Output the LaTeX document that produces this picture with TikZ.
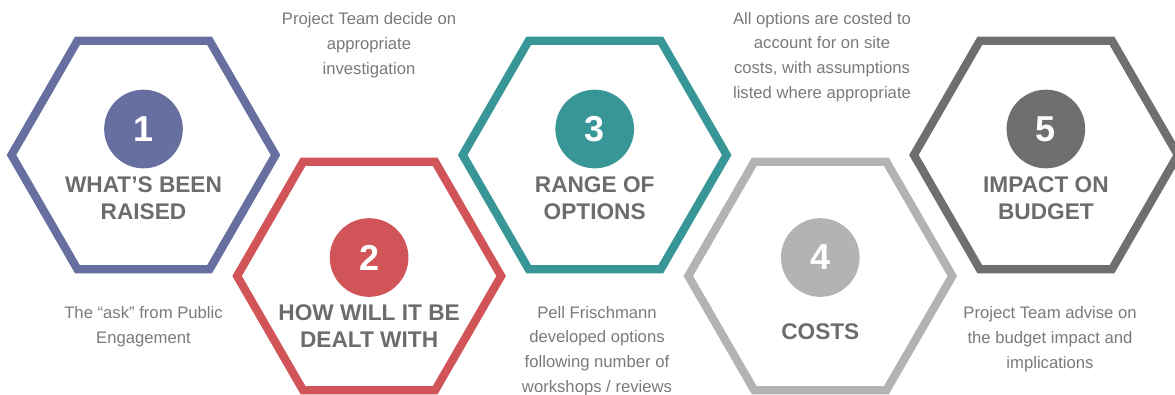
\documentclass[tikz,border=0pt]{standalone}
\usepackage{fontspec}
\setmainfont{Liberation Sans}
\usepackage{xcolor}
\usetikzlibrary{calc, positioning}

\definecolor{hexblue}{RGB}{103,110,160}
\definecolor{hexred}{RGB}{208,84,88}
\definecolor{hexteal}{RGB}{56,150,150}
\definecolor{hexlight}{RGB}{178,180,178}
\definecolor{hexdark}{RGB}{112,110,111}
\definecolor{titlegray}{RGB}{108,108,108}
\definecolor{notegray}{RGB}{122,122,122}

\tikzset{
    hexline/.style={line width=6.2pt, line join=miter},
    numdisc/.style={circle, minimum size=59pt, inner sep=0pt, text=white,
        font=\fontsize{27}{27}\selectfont\bfseries},
    steptitle/.style={align=center, text=titlegray, inner sep=0pt,
        font=\fontsize{17}{20.25}\selectfont\bfseries},
    stepnote/.style={align=center, text=notegray, inner sep=0pt,
        font=\fontsize{12.5}{18.6}\selectfont}
}

\begin{document}
\begin{tikzpicture}[x=0.75pt, y=0.75pt]
    \useasboundingbox (0, 0) rectangle (1175, -394);

    % hexagons, top row and bottom row in turn
    \foreach \i/\col/\y in {1/hexblue/-155, 2/hexred/-276, 3/hexteal/-155, 4/hexlight/-276, 5/hexdark/-155} {
        \coordinate (h\i) at ({143.5 + 225.6*(\i - 1)}, \y);
        \draw[hexline, \col]
        (h\i) ++(0:132) -- ++(120:132) -- ++(180:132) -- ++(240:132)
        -- ++(300:132) -- ++(0:132) -- cycle;
    }

    % numbers
    \node[numdisc, fill=hexblue] (n1) at ($(h1) + (0, 26)$) {1};
    \node[numdisc, fill=hexred] (n2) at ($(h2) + (0, 18.5)$) {2};
    \node[numdisc, fill=hexteal] (n3) at ($(h3) + (0, 26)$) {3};
    \node[numdisc, fill=hexlight] (n4) at ($(h4) + (0, 18.5)$) {4};
    \node[numdisc, fill=hexdark] (n5) at ($(h5) + (0, 26)$) {5};

    % titles
    \node[steptitle] (t1) at ($(h1) + (0, -43.5)$) {WHAT’S BEEN\\RAISED};
    \node[steptitle] (t2) at ($(h2) + (0, -50.5)$) {HOW WILL IT BE\\DEALT WITH};
    \node[steptitle] (t3) at ($(h3) + (0, -43.5)$) {RANGE OF\\OPTIONS};
    \node[steptitle] (t4) at ($(h4) + (0, -56)$) {COSTS};
    \node[steptitle] (t5) at ($(h5) + (0, -43.5)$) {IMPACT ON\\BUDGET};

    % notes
    \node[stepnote] (m2) at (369, -45) {Project Team decide on\\appropriate\\investigation};
    \node[stepnote] (m4) at (822, -57) {All options are costed to\\account for on site\\costs, with assumptions\\listed where appropriate};
    \node[stepnote] (m1) at (143.5, -327) {The “ask” from Public\\Engagement};
    \node[stepnote] (m3) at (597, -351) {Pell Frischmann\\developed options\\following number of\\workshops / reviews};
    \node[stepnote] (m5) at (1050, -339) {Project Team advise on\\the budget impact and\\implications};
\end{tikzpicture}
\end{document}
